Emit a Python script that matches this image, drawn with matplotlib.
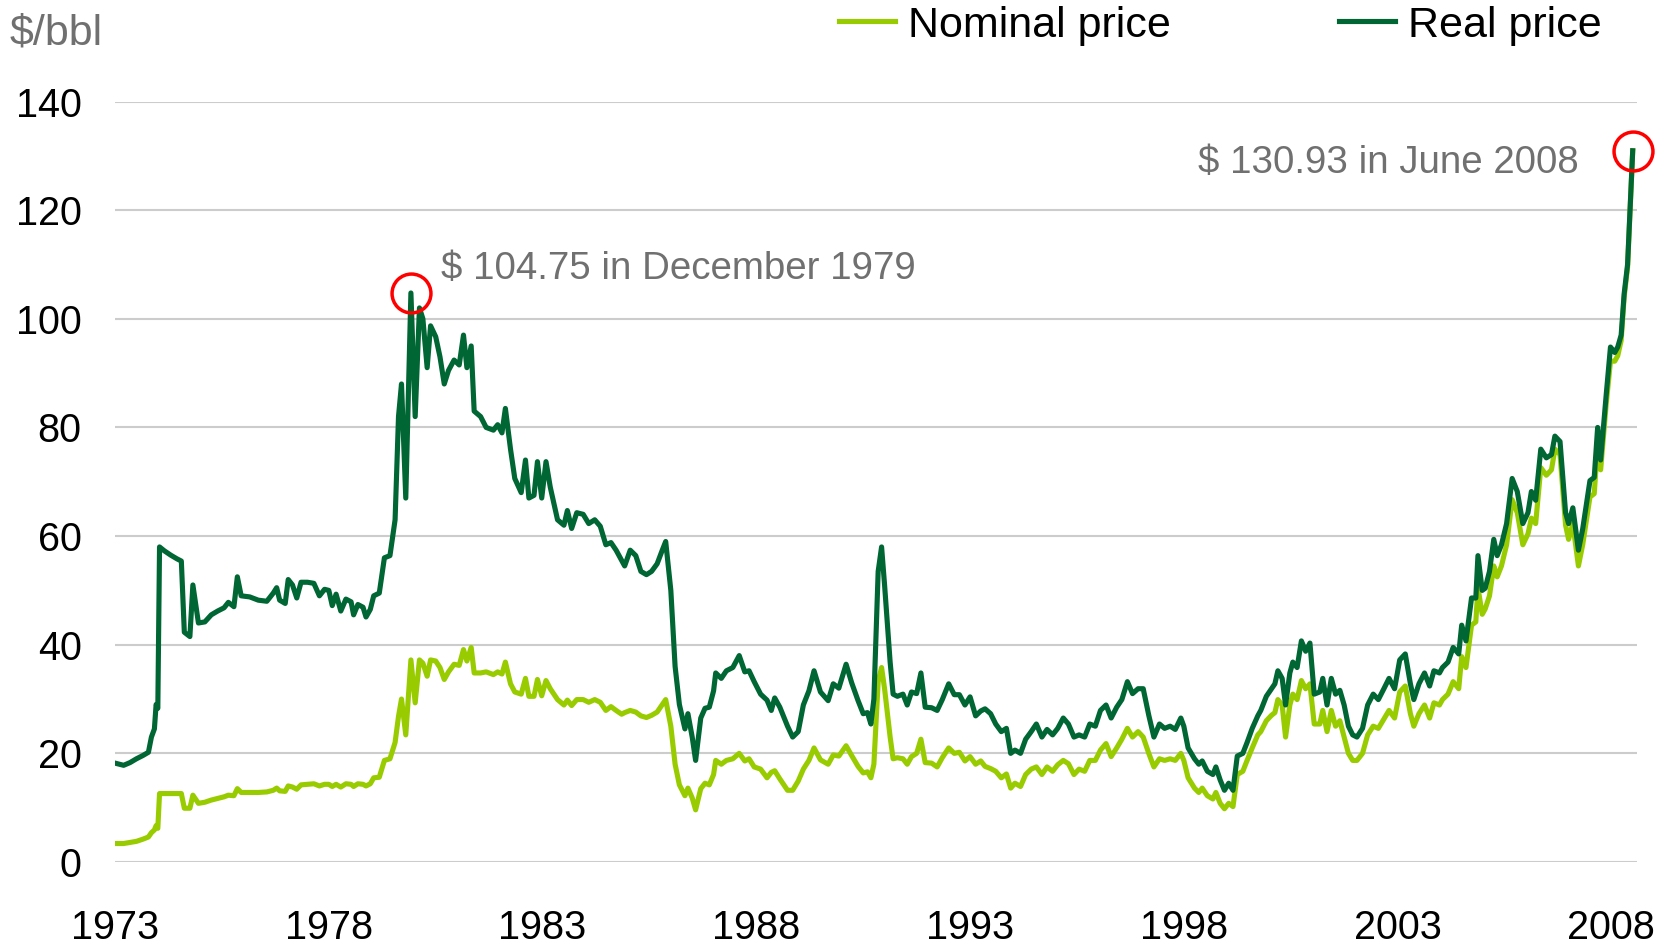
import matplotlib
matplotlib.use("Agg")
import matplotlib.pyplot as plt

# crude oil price, $/bbl (real = June 2008 dollars)
years = [
    1973.00, 1973.20, 1973.35, 1973.50, 1973.65, 1973.78, 1973.85, 1973.92, 1973.96, 1974.00,
    1974.04, 1974.15, 1974.30, 1974.45, 1974.55, 1974.62, 1974.75, 1974.82, 1974.95, 1975.10,
    1975.25, 1975.40, 1975.55, 1975.65, 1975.78, 1975.86, 1975.95, 1976.15, 1976.35, 1976.55,
    1976.70, 1976.78, 1976.85, 1976.98, 1977.05, 1977.15, 1977.25, 1977.35, 1977.50, 1977.65,
    1977.78, 1977.90, 1978.00, 1978.08, 1978.17, 1978.28, 1978.40, 1978.52, 1978.58, 1978.68,
    1978.80, 1978.87, 1978.97, 1979.05, 1979.18, 1979.30, 1979.43, 1979.55, 1979.63, 1979.70,
    1979.80, 1979.92, 1980.02, 1980.12, 1980.20, 1980.30, 1980.38, 1980.50, 1980.60, 1980.70,
    1980.80, 1980.93, 1981.05, 1981.15, 1981.23, 1981.33, 1981.40, 1981.55, 1981.68, 1981.85,
    1981.95, 1982.05, 1982.13, 1982.25, 1982.35, 1982.50, 1982.60, 1982.68, 1982.80, 1982.88,
    1982.98, 1983.08, 1983.18, 1983.35, 1983.50, 1983.58, 1983.68, 1983.80, 1983.95, 1984.08,
    1984.22, 1984.35, 1984.48, 1984.60, 1984.72, 1984.85, 1984.92, 1985.05, 1985.18, 1985.30,
    1985.43, 1985.55, 1985.68, 1985.80, 1985.88, 1986.00, 1986.10, 1986.20, 1986.33, 1986.40,
    1986.50, 1986.58, 1986.70, 1986.80, 1986.90, 1987.00, 1987.05, 1987.18, 1987.30, 1987.45,
    1987.60, 1987.73, 1987.83, 1987.95, 1988.10, 1988.25, 1988.35, 1988.43, 1988.55, 1988.73,
    1988.85, 1988.98, 1989.10, 1989.23, 1989.35, 1989.50, 1989.68, 1989.80, 1989.93, 1990.10,
    1990.23, 1990.38, 1990.50, 1990.60, 1990.68, 1990.75, 1990.85, 1990.93, 1991.00, 1991.13,
    1991.20, 1991.30, 1991.43, 1991.53, 1991.63, 1991.75, 1991.85, 1991.95, 1992.10, 1992.23,
    1992.35, 1992.50, 1992.63, 1992.75, 1992.88, 1993.00, 1993.13, 1993.25, 1993.35, 1993.48,
    1993.60, 1993.73, 1993.85, 1993.95, 1994.05, 1994.18, 1994.30, 1994.43, 1994.55, 1994.68,
    1994.80, 1994.93, 1995.05, 1995.18, 1995.30, 1995.43, 1995.55, 1995.68, 1995.80, 1995.93,
    1996.05, 1996.18, 1996.30, 1996.43, 1996.55, 1996.68, 1996.80, 1996.93, 1997.05, 1997.18,
    1997.30, 1997.43, 1997.55, 1997.68, 1997.80, 1997.93, 1998.00, 1998.10, 1998.25, 1998.35,
    1998.43, 1998.55, 1998.68, 1998.75, 1998.85, 1998.95, 1999.05, 1999.15, 1999.25, 1999.38,
    1999.48, 1999.60, 1999.73, 1999.80, 1999.93, 2000.05, 2000.13, 2000.20, 2000.30, 2000.38,
    2000.48, 2000.55, 2000.65, 2000.75, 2000.85, 2000.95, 2001.05, 2001.18, 2001.25, 2001.35,
    2001.45, 2001.55, 2001.65, 2001.75, 2001.85, 2001.95, 2002.05, 2002.18, 2002.30, 2002.43,
    2002.55, 2002.68, 2002.80, 2002.93, 2003.05, 2003.18, 2003.30, 2003.38, 2003.50, 2003.63,
    2003.75, 2003.85, 2003.98, 2004.05, 2004.18, 2004.30, 2004.43, 2004.50, 2004.60, 2004.73,
    2004.83, 2004.88, 2004.98, 2005.05, 2005.15, 2005.25, 2005.33, 2005.43, 2005.55, 2005.68,
    2005.80, 2005.93, 2006.05, 2006.13, 2006.23, 2006.35, 2006.48, 2006.60, 2006.68, 2006.80,
    2006.93, 2007.00, 2007.10, 2007.23, 2007.33, 2007.50, 2007.60, 2007.68, 2007.75, 2007.88,
    2007.98, 2008.08, 2008.15, 2008.23, 2008.30, 2008.38, 2008.45, 2008.50,
]

real_price = [
    18.2, 17.8, 18.3, 19.0, 19.6, 20.2, 23.0, 24.5, 29.0, 28.3,
    58.0, 57.3, 56.5, 55.8, 55.4, 42.3, 41.5, 51.0, 44.0, 44.2,
    45.5, 46.2, 46.8, 47.8, 47.0, 52.5, 49.0, 48.8, 48.2, 48.0,
    49.5, 50.5, 48.2, 47.6, 52.0, 51.0, 48.6, 51.5, 51.5, 51.3,
    49.0, 50.2, 50.0, 47.2, 49.3, 46.2, 48.4, 47.9, 45.5, 47.4,
    46.9, 45.1, 46.5, 49.0, 49.5, 56.0, 56.4, 63.0, 82.0, 88.0,
    67.0, 104.75, 82.0, 102.0, 100.0, 91.0, 98.7, 96.7, 93.0, 88.0,
    90.5, 92.4, 91.5, 97.0, 91.0, 95.0, 83.0, 82.0, 80.0, 79.5,
    80.5, 79.0, 83.5, 76.0, 70.6, 68.0, 74.0, 67.0, 67.5, 73.7,
    67.0, 73.7, 69.0, 63.0, 62.0, 64.7, 61.4, 64.3, 64.0, 62.3,
    63.0, 61.8, 58.4, 58.8, 57.4, 55.5, 54.5, 57.4, 56.4, 53.5,
    52.9, 53.5, 54.9, 57.4, 59.0, 50.0, 36.0, 29.0, 24.5, 27.3,
    23.0, 18.7, 26.5, 28.3, 28.5, 31.5, 34.8, 33.8, 35.2, 35.8,
    38.0, 35.0, 35.2, 33.2, 30.9, 29.8, 27.9, 30.2, 28.5, 25.0,
    23.0, 24.0, 28.9, 31.5, 35.2, 31.3, 29.7, 32.8, 32.0, 36.4,
    33.0, 29.7, 27.3, 27.5, 25.4, 30.0, 53.5, 58.0, 51.0, 36.8,
    30.9, 30.5, 30.9, 28.9, 31.3, 31.0, 34.8, 28.5, 28.4, 27.9,
    29.9, 32.8, 30.8, 30.8, 28.9, 30.4, 26.9, 27.8, 28.2, 27.3,
    25.4, 24.0, 24.6, 20.0, 20.6, 20.0, 22.6, 24.0, 25.4, 23.0,
    24.4, 23.4, 24.6, 26.5, 25.4, 23.0, 23.4, 23.0, 25.4, 25.0,
    27.9, 28.9, 26.5, 28.5, 29.9, 33.2, 31.0, 31.9, 31.9, 27.0,
    23.0, 25.4, 24.6, 25.0, 24.4, 26.5, 25.0, 21.0, 19.0, 18.0,
    18.6, 16.7, 16.1, 17.5, 15.1, 13.2, 14.5, 13.2, 19.5, 20.0,
    22.0, 24.6, 26.9, 27.9, 30.5, 31.9, 32.8, 35.2, 33.8, 28.9,
    34.8, 36.8, 35.8, 40.7, 38.8, 40.3, 30.9, 31.3, 33.8, 28.9,
    33.8, 30.9, 31.6, 28.9, 25.0, 23.4, 23.0, 24.6, 28.9, 30.9,
    29.9, 31.9, 33.8, 31.9, 37.2, 38.3, 32.8, 29.9, 32.8, 34.8,
    32.4, 35.2, 34.8, 35.8, 36.8, 39.5, 38.3, 43.6, 40.7, 48.6,
    48.6, 56.4, 50.0, 50.4, 53.5, 59.4, 56.4, 58.4, 62.3, 70.6,
    68.2, 62.3, 64.3, 68.2, 66.6, 76.0, 74.4, 75.0, 78.4, 77.4,
    64.3, 62.3, 65.2, 57.4, 61.3, 70.2, 70.8, 80.0, 74.0, 86.0,
    94.8, 93.8, 94.8, 97.0, 104.6, 110.0, 122.0, 130.93,
]

nominal_price = [
    3.4, 3.4, 3.6, 3.8, 4.2, 4.6, 5.4, 5.9, 6.7, 6.2,
    12.6, 12.6, 12.6, 12.6, 12.6, 9.9, 9.9, 12.3, 10.8, 11.0,
    11.4, 11.7, 12.0, 12.3, 12.2, 13.5, 12.8, 12.8, 12.8, 12.9,
    13.2, 13.6, 13.1, 13.0, 14.0, 13.8, 13.4, 14.2, 14.3, 14.4,
    14.0, 14.3, 14.3, 13.9, 14.3, 13.8, 14.4, 14.3, 13.9, 14.4,
    14.3, 14.0, 14.4, 15.5, 15.6, 18.7, 19.0, 22.0, 26.8, 30.0,
    23.4, 37.2, 29.3, 37.2, 36.6, 34.2, 37.2, 37.0, 35.8, 33.6,
    35.0, 36.4, 36.2, 39.1, 37.0, 39.5, 34.8, 34.8, 35.0, 34.5,
    35.0, 34.6, 36.8, 32.8, 31.3, 30.9, 33.8, 30.5, 30.5, 33.6,
    30.6, 33.4, 31.9, 29.9, 28.9, 29.8, 28.8, 29.9, 29.9, 29.4,
    29.9, 29.4, 27.9, 28.6, 27.9, 27.2, 27.5, 27.9, 27.6, 26.9,
    26.6, 27.0, 27.6, 29.0, 29.9, 25.0, 18.0, 14.2, 12.2, 13.6,
    11.8, 9.6, 13.5, 14.5, 14.2, 16.1, 18.7, 18.0, 18.7, 19.0,
    20.0, 18.6, 19.0, 17.5, 17.1, 15.5, 16.5, 16.8, 15.3, 13.2,
    13.2, 14.9, 17.1, 18.7, 21.0, 18.8, 18.0, 19.7, 19.5, 21.4,
    19.6, 17.6, 16.4, 16.6, 15.5, 18.0, 33.2, 35.8, 31.9, 23.0,
    19.0, 19.2, 19.0, 18.0, 19.4, 20.0, 22.6, 18.3, 18.2, 17.5,
    19.2, 21.0, 20.0, 20.2, 18.6, 19.4, 18.0, 18.6, 17.6, 17.2,
    16.7, 15.5, 16.2, 13.6, 14.5, 13.9, 16.1, 17.1, 17.5, 16.1,
    17.5, 16.7, 17.9, 18.7, 18.1, 16.1, 17.1, 16.7, 18.7, 18.7,
    20.6, 21.8, 19.4, 21.0, 22.6, 24.6, 23.0, 24.0, 23.0, 20.0,
    17.5, 19.0, 18.7, 19.0, 18.7, 20.0, 18.7, 15.5, 13.6, 12.8,
    13.6, 12.2, 11.6, 12.8, 10.8, 9.8, 10.8, 10.2, 16.1, 16.7,
    18.7, 21.0, 23.4, 24.0, 26.0, 27.0, 27.5, 29.9, 28.9, 23.0,
    28.9, 30.9, 29.9, 33.4, 31.9, 32.8, 25.4, 25.4, 27.9, 24.0,
    27.9, 25.0, 26.0, 23.0, 20.0, 18.7, 18.7, 20.0, 23.4, 25.0,
    24.6, 26.3, 27.9, 26.5, 31.3, 32.4, 27.3, 25.0, 27.3, 28.9,
    26.5, 29.3, 28.9, 29.9, 30.9, 33.2, 31.9, 37.8, 35.8, 43.6,
    44.2, 50.5, 45.6, 46.6, 49.0, 54.5, 52.5, 54.5, 58.4, 66.7,
    64.3, 58.4, 60.4, 63.3, 62.3, 72.6, 71.2, 72.2, 76.0, 75.0,
    62.0, 59.4, 62.3, 54.5, 58.4, 67.2, 67.8, 77.0, 72.2, 84.3,
    92.2, 92.2, 93.2, 96.0, 104.0, 109.5, 121.8, 130.93,
]

x_ticks = [1973, 1978, 1983, 1988, 1993, 1998, 2003, 2008]
y_ticks = [0, 20, 40, 60, 80, 100, 120, 140]

# highlighted peaks
peak_years = [1979.92, 2008.50]
peak_values = [104.75, 130.93]
peak_labels = ["$ 104.75 in December 1979", "$ 130.93 in June 2008"]

NOMINAL = "#99cc00"
REAL = "#006633"
GREY = "#707070"

plt.rcParams["font.family"] = ["Liberation Sans", "DejaVu Sans"]

fig = plt.figure(figsize=(16.75, 9.46), dpi=100)
ax = fig.add_axes([0.0687, 0.0888, 0.9086, 0.8039])

ax.plot(years, nominal_price, color=NOMINAL, lw=3.7, label="Nominal price",
        solid_joinstyle="round")
ax.plot(years, real_price, color=REAL, lw=3.7, label="Real price",
        solid_joinstyle="round")

ax.set_xlim(1973, 2008.6)
ax.set_ylim(0, 140)
ax.set_xticks(x_ticks)
ax.set_yticks(y_ticks)
ax.tick_params(axis="both", length=0, labelsize=28.5, colors="black")
ax.tick_params(axis="y", pad=24)
ax.tick_params(axis="x", pad=34)
ax.grid(axis="y", color="#cccccc", lw=1.5)
ax.set_axisbelow(True)
for s in ax.spines.values():
    s.set_visible(False)

# peak markers and labels
ax.plot(peak_years, peak_values, "o", ms=28, mfc="none", mec="red", mew=2.5,
        clip_on=False, zorder=5)
ax.annotate(peak_labels[0], (peak_years[0], peak_values[0]), xytext=(22, 17),
            textcoords="offset points", ha="left", va="center",
            fontsize=27.7, color=GREY)
ax.annotate(peak_labels[1], (peak_years[1], peak_values[1]), xytext=(-39, -9),
            textcoords="offset points", ha="right", va="center",
            fontsize=27.7, color=GREY)

fig.text(0.006, 0.965, "$/bbl", fontsize=31, color=GREY, ha="left", va="center")

fig.legend(loc="center right", bbox_to_anchor=(0.956, 0.973), ncol=2,
           frameon=False, fontsize=31, handlelength=1.3, handletextpad=0.3,
           columnspacing=3.9, borderpad=0, borderaxespad=0)

fig.savefig("out.png", dpi=100)
